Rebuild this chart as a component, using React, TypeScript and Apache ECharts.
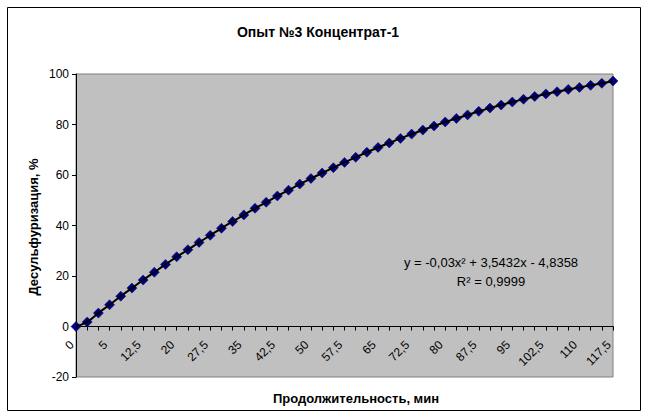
import React, { useEffect, useRef } from "react";
import * as echarts from "echarts";

const categories = [
  "0", "1", "2,5", "5", "7,5", "10", "12,5", "15", "17,5", "20",
  "22,5", "25", "27,5", "30", "32,5", "35", "37,5", "40", "42,5", "45",
  "47,5", "50", "52,5", "55", "57,5", "60", "62,5", "65", "67,5", "70",
  "72,5", "75", "77,5", "80", "82,5", "85", "87,5", "90", "92,5", "95",
  "97,5", "100", "102,5", "105", "107,5", "110", "112,5", "115", "117,5",
];

const desulfurization = [
  0, 1.8, 5.3, 8.6, 12.0, 15.2, 18.4, 21.5, 24.6, 27.6,
  30.4, 33.3, 36.1, 38.9, 41.6, 44.2, 46.8, 49.2, 51.7, 54.0,
  56.4, 58.6, 60.8, 62.9, 65.0, 67.0, 69.0, 70.9, 72.7, 74.5,
  76.2, 77.8, 79.4, 81.0, 82.4, 83.8, 85.2, 86.5, 87.7, 88.9,
  90.0, 91.1, 92.1, 93.0, 93.9, 94.7, 95.5, 96.3, 97.2,
];

const yMin = -20;
const yMax = 100;
const yStep = 20;

const title = "Опыт №3 Концентрат-1";
const xTitle = "Продолжительность, мин";
const yTitle = "Десульфуризация, %";
const equationLine1 = "y = -0,03x² + 3,5432x - 4,8358";
const equationLine2 = "R² = 0,9999";

const FONT = "'Liberation Sans', Arial, sans-serif";

const GRID_LEFT = 76;
const GRID_RIGHT_EDGE = 613;
const GRID_TOP = 74;
const GRID_BOTTOM_EDGE = 377;

export default function App() {
  const ref = useRef<HTMLDivElement>(null);
  useEffect(() => {
    if (!ref.current) return;
    const chart = echarts.init(ref.current, undefined, { renderer: "svg" });
    const gridHeight = GRID_BOTTOM_EDGE - GRID_TOP;
    const zeroOffset = -gridHeight * (0 - yMin) / (yMax - yMin);
    chart.setOption({
      animation: false,
      backgroundColor: "#ffffff",
      textStyle: { fontFamily: FONT },
      grid: {
        left: GRID_LEFT,
        right: 647 - GRID_RIGHT_EDGE,
        top: GRID_TOP,
        bottom: 419 - GRID_BOTTOM_EDGE,
        show: true,
        backgroundColor: "#C0C0C0",
        borderColor: "#808080",
        borderWidth: 1,
        containLabel: false,
      },
      xAxis: {
        type: "category",
        data: categories,
        boundaryGap: false,
        offset: zeroOffset,
        axisLine: { show: true, onZero: false, lineStyle: { color: "#000", width: 1 } },
        axisTick: { show: true, interval: 0, length: 4, inside: false, lineStyle: { color: "#000" } },
        axisLabel: {
          interval: 2,
          rotate: 45,
          margin: 12,
          padding: [0, 6, 0, 0],
          color: "#000",
          fontSize: 12,
          fontFamily: FONT,
        },
        splitLine: { show: false },
      },
      yAxis: {
        type: "value",
        min: yMin,
        max: yMax,
        interval: yStep,
        axisLine: { show: true, lineStyle: { color: "#000", width: 1 } },
        axisTick: { show: true, length: 4, lineStyle: { color: "#000" } },
        axisLabel: { color: "#000", fontSize: 12, margin: 7, fontFamily: FONT },
        splitLine: { show: false },
      },
      series: [
        {
          type: "line",
          data: desulfurization,
          symbol: "diamond",
          symbolSize: 10,
          showSymbol: true,
          showAllSymbol: true,
          itemStyle: { color: "#000080", borderColor: "#000060", borderWidth: 0.5 },
          lineStyle: { color: "#000080", width: 1 },
          z: 2,
        },
        {
          type: "line",
          data: desulfurization,
          smooth: true,
          symbol: "none",
          lineStyle: { color: "#000000", width: 2 },
          z: 3,
          silent: true,
        },
      ],
      graphic: [
        {
          type: "rect",
          shape: { x: 7.5, y: 7.5, width: 633, height: 403 },
          style: { fill: "none", stroke: "#000", lineWidth: 1 },
          z: -1,
        },
        {
          type: "text",
          x: 318,
          y: 32,
          style: {
            text: title,
            fontSize: 14,
            fontWeight: "bold",
            fontFamily: FONT,
            fill: "#000",
            textAlign: "center",
            textVerticalAlign: "middle",
          },
        },
        {
          type: "text",
          x: 356,
          y: 398,
          style: {
            text: xTitle,
            fontSize: 13,
            fontWeight: "bold",
            fontFamily: FONT,
            fill: "#000",
            textAlign: "center",
            textVerticalAlign: "middle",
          },
        },
        {
          type: "text",
          x: 33,
          y: 227,
          rotation: Math.PI / 2,
          style: {
            text: yTitle,
            fontSize: 13,
            fontWeight: "bold",
            fontFamily: FONT,
            fill: "#000",
            textAlign: "center",
            textVerticalAlign: "middle",
          },
        },
        {
          type: "text",
          x: 491,
          y: 262,
          z: 10,
          style: {
            text: equationLine1,
            fontSize: 13,
            fontFamily: FONT,
            fill: "#000",
            textAlign: "center",
            textVerticalAlign: "middle",
          },
        },
        {
          type: "text",
          x: 491,
          y: 281,
          z: 10,
          style: {
            text: equationLine2,
            fontSize: 13,
            fontFamily: FONT,
            fill: "#000",
            textAlign: "center",
            textVerticalAlign: "middle",
          },
        },
      ],
    });
    return () => chart.dispose();
  }, []);
  return (
    <div
      ref={ref}
      style={{ position: "absolute", left: 0, top: 0, width: 647, height: 419 }}
    />
  );
}
